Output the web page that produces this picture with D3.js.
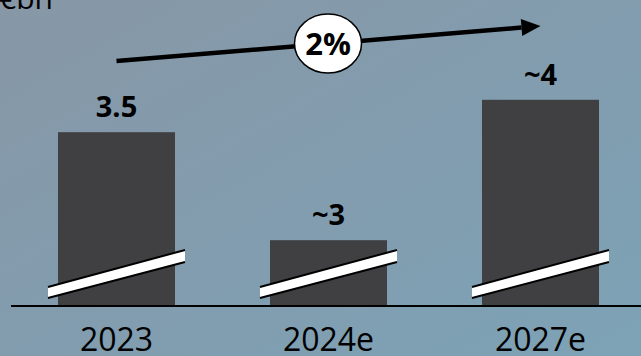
<!DOCTYPE html>
<html>
<head>
<meta charset="utf-8">
<script src="https://cdn.jsdelivr.net/npm/d3@7"></script>
<style>
  html, body { margin: 0; padding: 0; }
  body { width: 641px; height: 356px; overflow: hidden; }
  svg { display: block; font-family: 'Open Sans', sans-serif; }
</style>
</head>
<body>
<svg width="641" height="356"></svg>
<script>
// values (axis is broken, so labels are rounded)
const years = ['2023', '2024e', '2027e']
const values = [3.5, 3.0, 3.65]
const valueLabels = ['3.5', '~3', '~4']
const unitLabel = '€bn'
const cagrLabel = '2%'

const width = 641, height = 356
const baseY = 305

const svg = d3.select('svg')

const defs = svg.append('defs')
const grad = defs.append('linearGradient')
    .attr('id', 'bg')
    .attr('x1', '0%').attr('y1', '0%')
    .attr('x2', '100%').attr('y2', '100%')
grad.append('stop').attr('offset', '0%').attr('stop-color', '#8797a6')
grad.append('stop').attr('offset', '100%').attr('stop-color', '#7da2b6')

svg.append('rect')
    .attr('width', width)
    .attr('height', height)
    .attr('fill', 'url(#bg)')

const x = d3.scaleBand()
    .domain(years)
    .range([10.5, 646.5])
    .paddingInner(0.448)
    .paddingOuter(0.224)

const y = d3.scaleLinear()
    .domain([2.7, 3.7])
    .range([baseY, baseY - 216])

const rows = years.map((d, i) => ({ year: d, value: values[i], label: valueLabels[i] }))

const g = svg.append('g')

g.selectAll('.bar').data(rows)
    .enter().append('rect')
        .attr('class', 'bar')
        .attr('x', d => x(d.year))
        .attr('y', d => y(d.value))
        .attr('width', x.bandwidth())
        .attr('height', d => baseY - y(d.value))
        .attr('fill', '#404042')

// axis break marks
const bw = x.bandwidth()
const brk = g.selectAll('.brk').data(rows)
    .enter().append('g')
        .attr('class', 'brk')
        .attr('transform', d => `translate(${x(d.year)},0)`)
brk.append('path')
    .attr('d', `M-10,${baseY - 18} L${bw + 10},${baseY - 55} L${bw + 10},${baseY - 43} L-10,${baseY - 7} Z`)
    .attr('fill', '#fff')
brk.append('path')
    .attr('d', `M-10,${baseY - 18} L${bw + 10},${baseY - 55} M${bw + 10},${baseY - 43} L-10,${baseY - 7}`)
    .attr('fill', 'none')
    .attr('stroke', '#000')
    .attr('stroke-width', 2)

g.selectAll('.val').data(rows)
    .enter().append('text')
        .attr('class', 'val')
        .attr('x', d => x(d.year) + bw / 2)
        .attr('y', d => y(d.value) - 15)
        .attr('text-anchor', 'middle')
        .attr('font-size', 29)
        .attr('font-weight', 'bold')
        .attr('fill', '#000')
        .text(d => d.label)

// baseline
svg.append('line')
    .attr('x1', 11).attr('x2', width)
    .attr('y1', baseY + 1).attr('y2', baseY + 1)
    .attr('stroke', '#000')
    .attr('stroke-width', 2)

// category labels
g.selectAll('.cat').data(years)
    .enter().append('text')
        .attr('class', 'cat')
        .attr('x', d => x(d) + bw / 2)
        .attr('y', 351)
        .attr('text-anchor', 'middle')
        .attr('font-size', 32)
        .attr('fill', '#000')
        .text(d => d)

// unit label, clipped at the top like the source
svg.append('text')
    .attr('x', -1)
    .attr('y', 9)
    .attr('font-size', 30)
    .attr('fill', '#000')
    .text(unitLabel)

// growth arrow
const ax0 = x(years[0]) + bw / 2
const ax1 = x(years[2]) + bw / 2
const ay0 = 61, ay1 = 26
const headLen = 19
const t = (ax1 - headLen - ax0) / (ax1 - ax0)
const hx = ax0 + (ax1 - ax0) * t, hy = ay0 + (ay1 - ay0) * t
svg.append('line')
    .attr('x1', ax0).attr('y1', ay0)
    .attr('x2', hx).attr('y2', hy)
    .attr('stroke', '#000')
    .attr('stroke-width', 4.5)
const ang = Math.atan2(ay1 - ay0, ax1 - ax0)
const nx = -Math.sin(ang) * 8.5, ny = Math.cos(ang) * 8.5
svg.append('path')
    .attr('d', `M${ax1},${ay1} L${hx + nx},${hy + ny} L${hx - nx},${hy - ny} Z`)
    .attr('fill', '#000')

const cx = (ax0 + ax1) / 2 - 0.5
const cy = ay0 + (ay1 - ay0) * ((cx - ax0) / (ax1 - ax0))
svg.append('ellipse')
    .attr('cx', cx).attr('cy', cy)
    .attr('rx', 33.5).attr('ry', 29.5)
    .attr('fill', '#fff')
    .attr('stroke', '#000')
    .attr('stroke-width', 1.5)
svg.append('text')
    .attr('x', cx)
    .attr('y', cy + 11)
    .attr('text-anchor', 'middle')
    .attr('font-size', 31)
    .attr('font-weight', 'bold')
    .attr('fill', '#000')
    .text(cagrLabel)
</script>
</body>
</html>
